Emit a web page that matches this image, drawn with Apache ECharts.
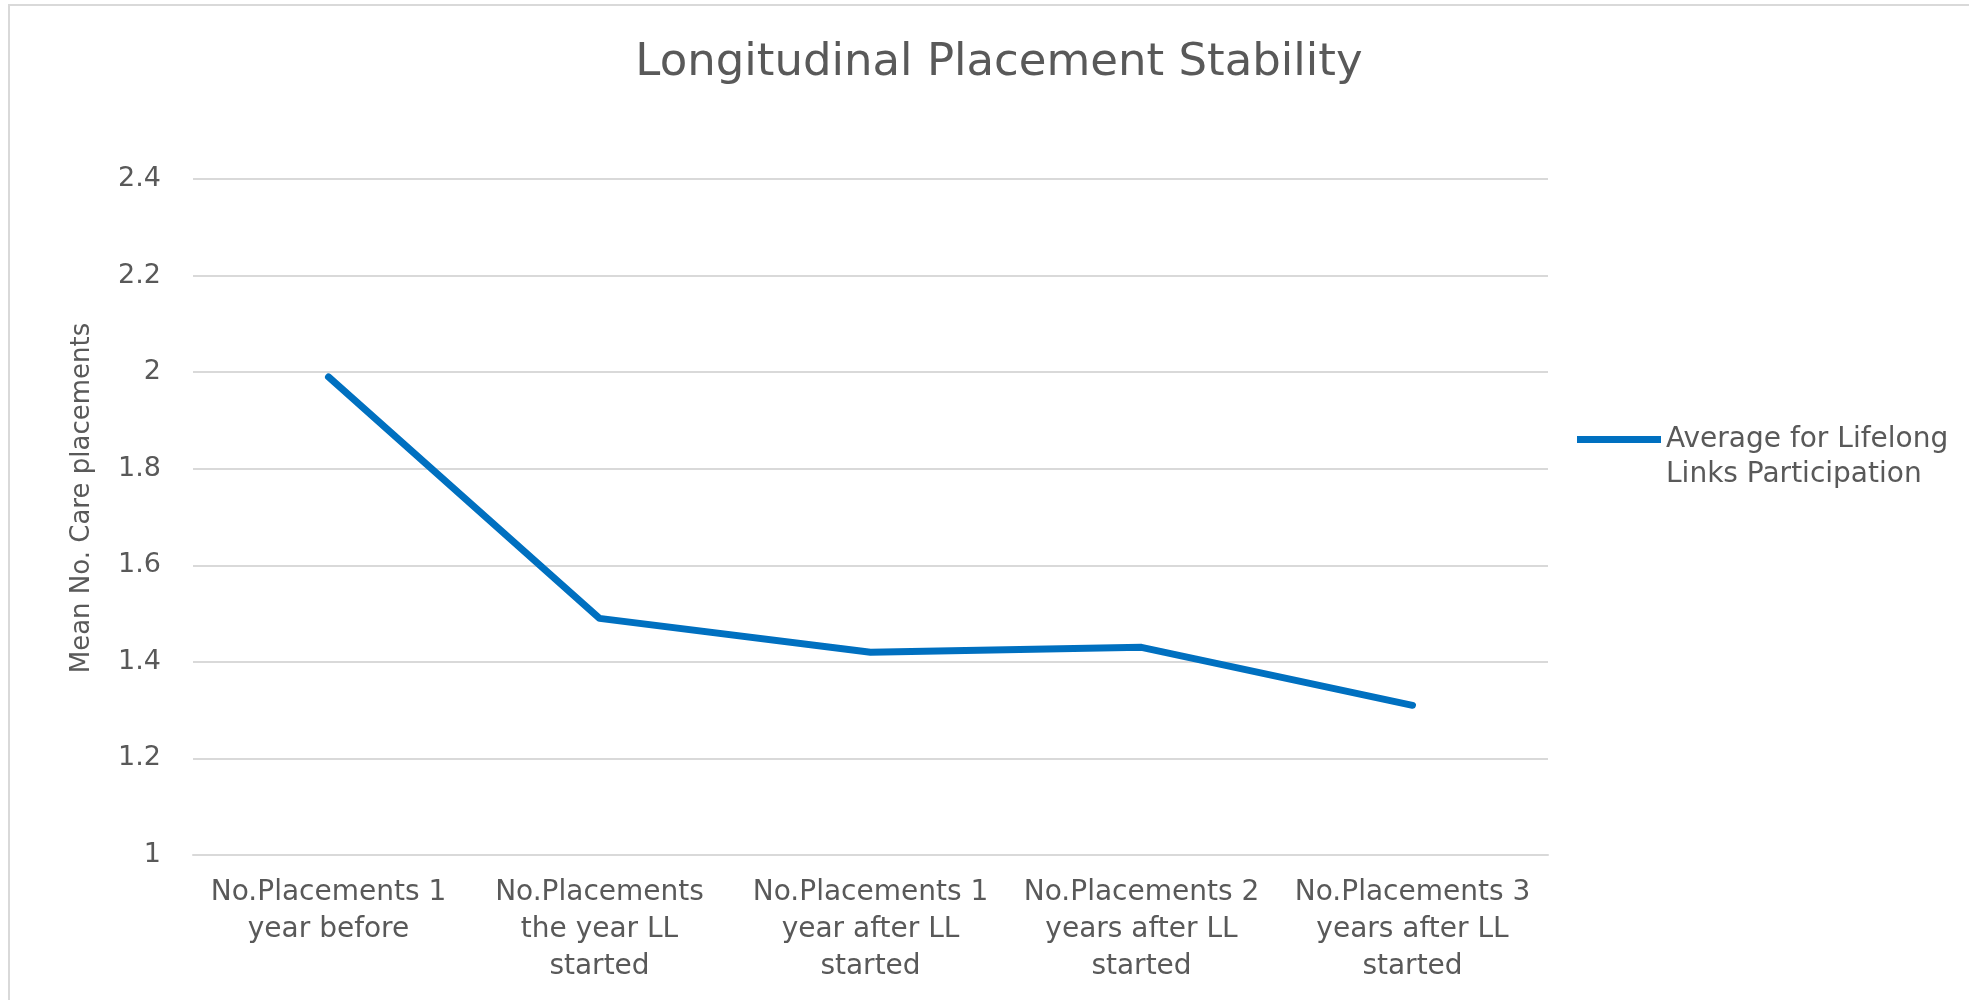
<!DOCTYPE html>
<html>
<head>
<meta charset="utf-8">
<script src="https://cdn.jsdelivr.net/npm/echarts@6/dist/echarts.min.js"></script>
<style>html,body{margin:0;padding:0;background:#fff;}#c{width:1969px;height:1000px;}</style>
</head>
<body>
<div id="c"></div>
<script>
const categories = [
  "No.Placements 1\nyear before",
  "No.Placements\nthe year LL\nstarted",
  "No.Placements 1\nyear after LL\nstarted",
  "No.Placements 2\nyears after LL\nstarted",
  "No.Placements 3\nyears after LL\nstarted"
];
const seriesName = "Average for Lifelong\nLinks Participation";
const values = [1.99, 1.49, 1.42, 1.43, 1.31];
const yTicks = { min: 1, max: 2.4, interval: 0.2 };

const FONT = '"DejaVu Sans"';
const TXT = '#595959';
const chart = echarts.init(document.getElementById('c'));
chart.setOption({
  backgroundColor: '#fff',
  animation: false,
  title: {
    text: 'Longitudinal Placement Stability',
    left: 994, top: 36, textAlign: 'center',
    textStyle: { fontFamily: FONT, fontSize: 45, fontWeight: 'normal', color: TXT }
  },
  graphic: [{
    type: 'rect', silent: true,
    shape: { x: 9, y: 5, width: 2100, height: 1100 },
    style: { fill: 'none', stroke: '#d9d9d9', lineWidth: 2 }
  }],
  legend: {
    left: 1572, top: 417,
    itemWidth: 84, itemHeight: 70,
    icon: 'path://M0,14 L84,14 L84,21 L0,21 Z M0,0 L0.01,0 L0.01,0.01 Z M0,70 L0.01,70 L0.01,69.99 Z',
    itemStyle: { borderWidth: 0 },
    textStyle: { fontFamily: FONT, fontSize: 28, color: TXT, lineHeight: 35 },
    data: [seriesName]
  },
  grid: { left: 193, right: 421, top: 179, bottom: 145 },
  xAxis: {
    type: 'category',
    data: categories,
    boundaryGap: true,
    axisLine: { show: true, lineStyle: { color: '#d9d9d9', width: 2 } },
    axisTick: { show: false },
    axisLabel: { interval: 0, margin: 19, fontFamily: FONT, fontSize: 28, color: TXT, lineHeight: 37, align: 'center' }
  },
  yAxis: {
    type: 'value',
    min: yTicks.min, max: yTicks.max, interval: yTicks.interval,
    name: 'Mean No. Care placements',
    nameLocation: 'middle',
    nameGap: 98,
    nameTextStyle: { fontFamily: FONT, fontSize: 26, color: TXT, padding: [0, 0, 0, 38] },
    axisLine: { show: false },
    axisTick: { show: false },
    axisLabel: { margin: 32, fontFamily: FONT, fontSize: 27, color: TXT, formatter: v => String(+v.toFixed(1)) },
    splitLine: { lineStyle: { color: '#d9d9d9', width: 2 } }
  },
  series: [{
    name: seriesName,
    type: 'line',
    data: values,
    showSymbol: false,
    symbol: 'none',
    lineStyle: { color: '#0070C0', width: 7, cap: 'round', join: 'round' },
    itemStyle: { color: '#0070C0' }
  }]
});
</script>
</body>
</html>
